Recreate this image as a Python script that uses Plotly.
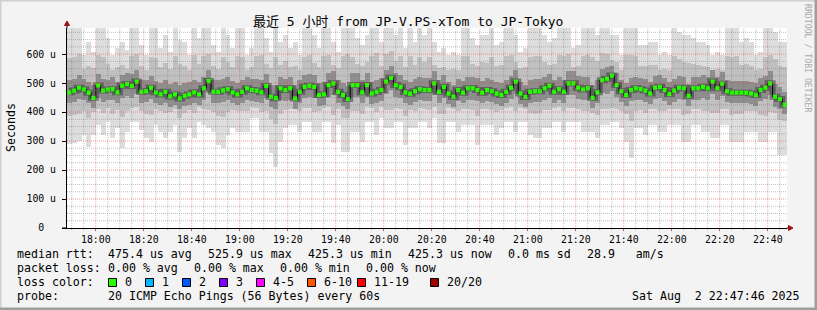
import numpy as np
import pandas as pd
import plotly.graph_objects as go

# ---------------- data ----------------
START = "2025-08-02 17:48:00"
END = "2025-08-02 22:48:00"
FIRST_CENTER = "2025-08-02 17:49:00"
STEP = "2min"

median_rtt = [
    468, 474, 484, 478, 467, 449, 492, 474, 478, 479, 468, 491, 497, 490, 505, 470, 472, 484, 468, 461,
    470, 454, 461, 447, 456, 461, 468, 461, 482, 507, 470, 470, 475, 479, 468, 461, 470, 482,
    476, 474, 468, 490, 453, 448, 482, 476, 482, 447, 470, 487, 491, 487, 459, 461, 493, 499, 470, 459,
    445, 493, 493, 468, 493, 464, 470, 476, 505, 518, 493, 487, 468, 463, 472, 479, 476,
    476, 499, 470, 487, 464, 453, 476, 467, 482, 482, 476, 467, 476, 472, 464, 459, 470, 484, 505, 464,
    452, 470, 472, 472, 482, 491, 470, 479, 470, 499, 499, 484, 478, 482, 449, 468, 510, 515,
    525.9, 493, 472, 459, 476, 482, 479, 474, 464, 484, 487, 476, 462, 474, 484, 482, 456, 482, 482, 487,
    482, 505, 482, 498, 472, 467, 467, 467, 467, 464, 459, 476, 484, 499, 453, 445, 425.3,
]
ping_max = [
    690, 690, 690, 597, 642, 608, 690, 690, 654, 597, 620, 642, 614, 690, 690, 631, 597, 690, 690, 620,
    665, 608, 690, 650, 642, 597, 690, 654, 690, 690, 631, 608, 690, 665, 620, 690, 690, 597,
    620, 690, 690, 654, 608, 690, 642, 665, 620, 642, 597, 690, 690, 665, 620, 690, 690, 642, 608, 690,
    690, 690, 654, 631, 665, 690, 690, 642, 690, 690, 665, 690, 620, 690, 642, 690, 665,
    690, 642, 608, 620, 597, 608, 597, 690, 690, 654, 631, 665, 665, 690, 631, 642, 690, 690, 665, 608,
    620, 690, 690, 690, 665, 642, 654, 690, 690, 690, 620, 631, 690, 690, 690, 665, 690, 690,
    665, 665, 597, 690, 690, 690, 631, 631, 642, 642, 597, 608, 597, 690, 677, 665, 665, 654, 642, 642,
    631, 597, 608, 597, 690, 690, 690, 642, 654, 642, 597, 608, 690, 690, 677, 642, 642,
]
ping_min = [
    290, 292, 300, 321, 280, 321, 355, 321, 367, 309, 344, 275, 332, 367, 367, 338, 309, 298, 355, 332,
    309, 332, 355, 263, 309, 344, 309, 367, 355, 344, 332, 286, 275, 321, 344, 332, 332, 332,
    378, 378, 332, 332, 260, 211, 298, 344, 355, 355, 332, 367, 367, 332, 332, 367, 367, 292, 355, 263,
    263, 332, 332, 298, 367, 367, 321, 378, 344, 344, 367, 367, 286, 344, 344, 367, 367,
    344, 378, 292, 292, 367, 367, 332, 355, 355, 355, 286, 355, 355, 355, 321, 344, 367, 367, 332, 367,
    367, 321, 309, 309, 344, 344, 367, 367, 332, 367, 367, 367, 332, 332, 332, 309, 355, 355,
    367, 367, 344, 298, 240, 344, 344, 321, 355, 355, 332, 332, 355, 355, 355, 298, 298, 355, 355, 332,
    332, 309, 309, 355, 355, 298, 298, 298, 332, 332, 332, 298, 298, 332, 332, 252, 252,
]
upper_mid = [
    585, 590, 600, 548, 560, 552, 598, 590, 565, 545, 556, 562, 550, 595, 600, 560, 545, 590, 585, 555,
    570, 550, 592, 566, 560, 544, 596, 566, 592, 600, 560, 550, 590, 572, 556, 594, 590, 546,
    556, 592, 596, 566, 552, 590, 562, 575, 556, 560, 545, 590, 596, 570, 555, 592, 598, 562, 552, 594,
    600, 590, 566, 560, 572, 594, 605, 560, 600, 610, 575, 592, 556, 594, 562, 590, 572,
    590, 562, 552, 556, 544, 550, 546, 592, 595, 566, 558, 572, 570, 590, 560, 562, 592, 598, 572, 552,
    556, 590, 594, 592, 572, 562, 566, 596, 594, 600, 556, 560, 592, 596, 590, 575, 604, 600,
    580, 572, 546, 596, 598, 594, 560, 558, 562, 562, 545, 550, 546, 592, 584, 572, 570, 566, 562, 560,
    556, 544, 550, 546, 592, 590, 594, 562, 566, 560, 545, 550, 590, 596, 584, 560, 556,
]
lower_mid = [
    385, 390, 392, 402, 380, 400, 412, 398, 415, 395, 408, 382, 404, 415, 418, 405, 395, 390, 410, 402,
    396, 400, 410, 378, 396, 408, 396, 416, 410, 406, 400, 386, 382, 400, 408, 402, 402, 404,
    418, 415, 400, 402, 375, 360, 392, 408, 410, 410, 402, 415, 414, 400, 402, 414, 416, 390, 410, 380,
    378, 402, 404, 392, 416, 414, 400, 418, 408, 406, 414, 412, 388, 406, 404, 414, 412,
    406, 418, 392, 394, 414, 412, 402, 410, 410, 408, 388, 410, 410, 408, 400, 406, 414, 416, 402, 414,
    412, 398, 394, 396, 406, 408, 414, 416, 402, 414, 414, 412, 402, 404, 396, 390, 410, 410,
    414, 412, 404, 392, 370, 404, 406, 398, 410, 410, 402, 402, 410, 410, 410, 390, 392, 410, 410, 402,
    402, 396, 396, 410, 410, 390, 392, 392, 402, 402, 402, 390, 388, 400, 398, 372, 370,
]
upper_dark = [
    510, 515, 528, 515, 505, 495, 530, 515, 512, 520, 505, 528, 535, 530, 545, 512, 510, 525, 508, 500,
    512, 496, 505, 492, 500, 505, 510, 505, 522, 545, 512, 510, 515, 520, 508, 500, 512, 522,
    515, 515, 510, 530, 495, 492, 522, 515, 520, 492, 512, 528, 532, 528, 500, 502, 535, 540, 512, 500,
    490, 535, 535, 510, 535, 505, 512, 518, 545, 558, 535, 528, 510, 505, 515, 520, 516,
    516, 540, 512, 528, 505, 495, 515, 508, 522, 522, 516, 508, 516, 512, 505, 500, 512, 525, 545, 505,
    495, 512, 515, 514, 522, 532, 512, 520, 512, 540, 540, 525, 520, 522, 495, 510, 550, 555,
    560, 535, 512, 500, 516, 522, 518, 515, 505, 525, 528, 516, 502, 515, 525, 522, 498, 522, 522, 528,
    522, 545, 522, 538, 512, 508, 508, 508, 508, 505, 500, 516, 525, 540, 498, 488, 470,
]
lower_dark = [
    430, 435, 445, 440, 430, 415, 450, 435, 440, 440, 430, 450, 455, 450, 462, 432, 435, 445, 430, 425,
    432, 418, 425, 412, 420, 425, 430, 425, 442, 465, 432, 432, 436, 440, 430, 425, 432, 442,
    438, 436, 430, 450, 418, 412, 442, 438, 442, 412, 432, 448, 452, 448, 422, 425, 452, 458, 432, 422,
    410, 452, 452, 430, 452, 428, 432, 438, 462, 475, 452, 448, 430, 426, 434, 440, 438,
    438, 458, 432, 448, 428, 418, 438, 430, 442, 442, 438, 430, 438, 434, 428, 422, 432, 445, 462, 428,
    418, 432, 434, 434, 442, 450, 432, 440, 432, 458, 458, 445, 440, 442, 415, 430, 465, 462,
    472, 452, 434, 422, 438, 442, 440, 436, 428, 445, 448, 438, 425, 436, 445, 442, 420, 442, 442, 448,
    442, 462, 442, 456, 434, 430, 430, 430, 430, 428, 422, 438, 445, 458, 418, 410, 395,
]

y_tick_vals = [0, 100, 200, 300, 400, 500, 600]
y_tick_text = ["0\u00a0\u00a0", "100\u00a0u", "200\u00a0u", "300\u00a0u", "400\u00a0u", "500\u00a0u", "600\u00a0u"]

title_text = "最近 5 小时 from JP-V.PS-xTom to JP-Tokyo"
rtt_stats = ["median rtt:", "475.4 us avg", "525.9 us max", "425.3 us min", "425.3 us now", "0.0 ms sd", "28.9   am/s"]
loss_stats = ["packet loss:", "0.00 % avg", "0.00 % max", "0.00 % min", "0.00 % now"]
loss_labels = ["0", "1", "2", "3", "4-5", "6-10", "11-19", "20/20"]
loss_colors = ["#26ff00", "#00b8ff", "#0059ff", "#7e00ff", "#ff00ff", "#ff5500", "#ff0000", "#a10000"]
probe_text = "20 ICMP Echo Pings (56 Bytes) every 60s"
stamp_text = "Sat Aug  2 22:47:46 2025"

# ---------------- layout helpers (pixel geometry) ----------------
W, H = 817, 310
PL, PR, PT, PB = 67, 787, 28, 228
MONO = "DejaVu Sans Mono, Noto Sans CJK SC, monospace"


def px(x):
    return (x - PL) / (PR - PL)


def py(y):
    return (PB - y) / (PB - PT)


centers = pd.date_range(FIRST_CENTER, periods=len(median_rtt), freq=STEP)
bar_w = 2 * 60000 * 1.04

fig = go.Figure()


def band(lo, hi, color):
    lo = np.array(lo, dtype=float)
    hi = np.array(hi, dtype=float)
    fig.add_trace(go.Bar(x=centers, y=hi - lo, base=lo, width=bar_w,
                         marker=dict(color=color, line=dict(width=0)),
                         hoverinfo="skip", showlegend=False))


band(ping_min, ping_max, "#dddddd")
band(lower_mid, upper_mid, "#c0c0c0")
band(lower_dark, upper_dark, "#8e8e8e")

fig.add_trace(go.Scatter(x=centers, y=median_rtt, mode="lines", line=dict(color="rgba(45,45,45,0.5)", width=6, shape="hvh"),
                         hoverinfo="skip", showlegend=False))
fig.add_trace(go.Scatter(x=centers, y=median_rtt, mode="lines", line=dict(color="#000000", width=1, shape="hvh"),
                         hoverinfo="skip", showlegend=False))
fig.add_trace(go.Scatter(x=centers, y=median_rtt, mode="markers",
                         marker=dict(symbol="square", size=4.2, color=loss_colors[0], line=dict(width=0)),
                         hoverinfo="skip", showlegend=False))

fig.update_layout(
    width=W, height=H, autosize=False,
    margin=dict(l=PL, r=W - PR, t=PT, b=H - PB, pad=0),
    paper_bgcolor="#f3f3f3", plot_bgcolor="#ffffff",
    barmode="overlay", bargap=0, showlegend=False,
    font=dict(family=MONO, color="#000000"),
)
fig.update_xaxes(
    type="date", range=[START, END], tickformat="%H:%M",
    tick0="2025-08-02 18:00:00", dtick=1200000,
    ticks="outside", ticklen=2, tickcolor="#d05050", tickwidth=1,
    showgrid=False, zeroline=False, showline=True, linecolor="#000000", linewidth=1,
    tickfont=dict(family=MONO, size=9.8, color="#000000"),
    minor=dict(dtick=300000, tick0="2025-08-02 18:00:00", ticks="outside", ticklen=1, tickcolor="#aaaaaa", showgrid=False),
    fixedrange=True,
)
fig.update_yaxes(
    range=[0, 690], tickvals=y_tick_vals, ticktext=y_tick_text,
    ticks="outside", ticklen=4, tickcolor="#000000",
    showgrid=False, zeroline=False, showline=True, linecolor="#000000", linewidth=1,
    tickfont=dict(family=MONO, size=9.8, color="#000000"),
    ticklabelstandoff=4, fixedrange=True,
)

shapes = []
MAJOR_GRID = "rgba(235,60,60,0.5)"
MINOR_GRID = "rgba(110,110,110,0.42)"
t1 = pd.Timestamp(END)
t = pd.Timestamp("2025-08-02 17:50:00")
while t < t1:
    major = (t.minute % 20 == 0)
    shapes.append(dict(type="line", xref="x", yref="paper", x0=t, x1=t, y0=0, y1=1, layer="above",
                       line=dict(color=MAJOR_GRID if major else MINOR_GRID, width=1, dash="1px,1px")))
    t += pd.Timedelta(minutes=5)
for v in range(25, 690, 25):
    major = (v % 100 == 0)
    shapes.append(dict(type="line", xref="paper", yref="y", x0=0, x1=1, y0=v, y1=v, layer="above",
                       line=dict(color=MAJOR_GRID if major else MINOR_GRID, width=1, dash="1px,1px")))

# axis extensions and arrows
shapes.append(dict(type="line", xref="paper", yref="paper", x0=0, x1=0, y0=1, y1=py(24), line=dict(color="#000", width=1)))
shapes.append(dict(type="path", xref="paper", yref="paper",
                   path=f"M {px(64.5)},{py(25.5)} L {px(69.5)},{py(25.5)} L {px(67)},{py(21)} Z",
                   fillcolor="#a01010", line=dict(color="#a01010", width=1)))
shapes.append(dict(type="line", xref="paper", yref="paper", x0=px(62), x1=0, y0=0, y1=0, line=dict(color="#000", width=1)))
shapes.append(dict(type="line", xref="paper", yref="paper", x0=1, x1=px(789), y0=0, y1=0, line=dict(color="#000", width=1)))
shapes.append(dict(type="path", xref="paper", yref="paper",
                   path=f"M {px(788.5)},{py(225.5)} L {px(788.5)},{py(230.5)} L {px(793)},{py(228)} Z",
                   fillcolor="#a01010", line=dict(color="#a01010", width=1)))

# frame shading
shapes.append(dict(type="line", xref="paper", yref="paper", x0=px(0), x1=px(W), y0=py(0.5), y1=py(0.5), line=dict(color="#cfcfcf", width=2)))
shapes.append(dict(type="line", xref="paper", yref="paper", x0=px(0.5), x1=px(0.5), y0=py(0), y1=py(H), line=dict(color="#cfcfcf", width=2)))
shapes.append(dict(type="line", xref="paper", yref="paper", x0=px(0), x1=px(W), y0=py(H - 1), y1=py(H - 1), line=dict(color="#9e9e9e", width=3)))
shapes.append(dict(type="line", xref="paper", yref="paper", x0=px(W - 1), x1=px(W - 1), y0=py(0), y1=py(H), line=dict(color="#9e9e9e", width=3)))

# loss colour boxes
box_x = [108.5, 145.5, 182.5, 219.5, 256.5, 307.5, 357.5, 430.5]
for bx, col in zip(box_x, loss_colors):
    shapes.append(dict(type="rect", xref="paper", yref="paper", x0=px(bx), x1=px(bx + 8), y0=py(286.5), y1=py(278.5),
                       fillcolor=col, line=dict(color="#000000", width=1)))

fig.update_layout(shapes=shapes)


def txt(x, y, s, size=11.6, anchor="left", color="#000000", angle=0):
    fig.add_annotation(x=px(x), y=py(y), xref="paper", yref="paper", text=s.replace(" ", "\u00a0"),
                       showarrow=False, xanchor=anchor, yanchor="middle", borderpad=0, textangle=angle,
                       font=dict(family=MONO, size=size, color=color))


txt(407.7, 21, title_text, size=13, anchor="center")
txt(11, 128, "Seconds", size=11.6, anchor="center", angle=-90)
txt(808, 59, "RRDTOOL / TOBI OETIKER", size=8.2, anchor="center", color="#aaaaaa", angle=90)

row_y = [254, 268, 282, 296]
rtt_x = [16, 107.3, 207.3, 307.3, 407.3, 507.3, 585.7]
for x, s in zip(rtt_x, rtt_stats):
    txt(x, row_y[0], s)
loss_x = [16, 107.3, 193.3, 279.3, 365.3]
for x, s in zip(loss_x, loss_stats):
    txt(x, row_y[1], s)
txt(16, row_y[2], "loss color:")
for bx, lab in zip(box_x, loss_labels):
    txt(bx + 15, row_y[2], lab)
txt(16, row_y[3], "probe:")
txt(107.3, row_y[3], probe_text)
txt(801, row_y[3], stamp_text, anchor="right")

fig.write_html("out.html", config={"displayModeBar": False, "staticPlot": True})
